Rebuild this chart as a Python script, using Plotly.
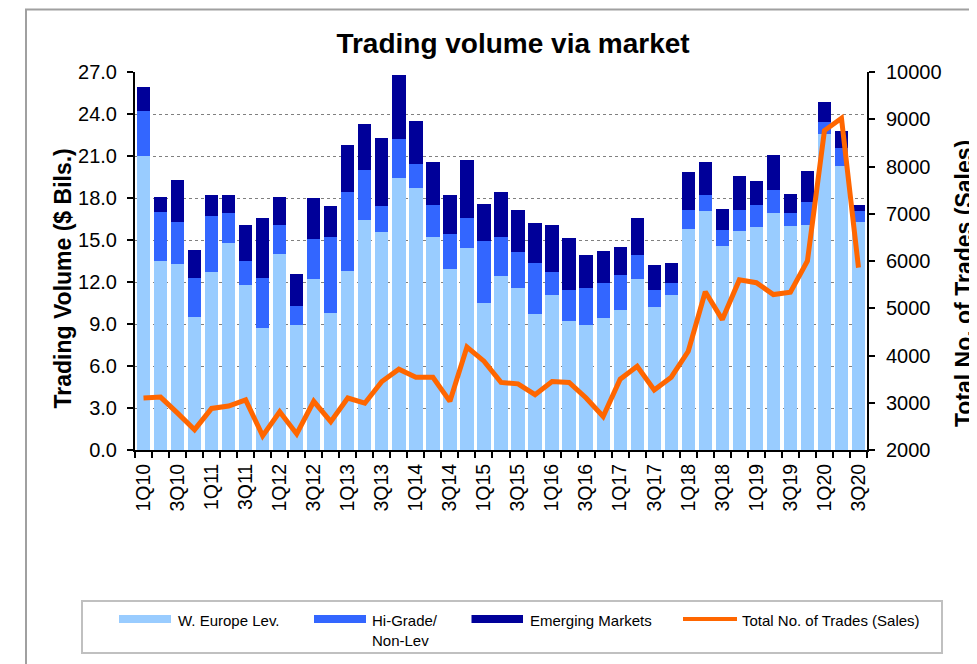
import plotly.graph_objects as go
from plotly.subplots import make_subplots

quarters = [f"{q}Q{y}" for y in range(10, 21) for q in range(1, 5)][:43]

w_europe = [21.0, 13.5, 13.3, 9.5, 12.7, 14.8, 11.8, 8.7, 14.0, 8.9, 12.2, 9.8, 12.8, 16.4, 15.6,
            19.4, 18.7, 15.2, 12.95, 14.4, 10.5, 12.4, 11.6, 9.7, 11.1, 9.25, 8.9, 9.45, 10.0, 12.2,
            10.2, 11.1, 15.8, 17.1, 14.6, 15.65, 15.9, 16.9, 16.0, 16.05, 22.6, 20.3, 16.3]
hi_grade = [3.25, 3.5, 3.0, 2.8, 4.0, 2.1, 1.7, 3.6, 2.05, 1.4, 2.9, 5.4, 5.6, 3.6, 1.86,
            2.84, 1.7, 2.3, 2.45, 2.15, 4.45, 2.85, 2.55, 3.65, 1.6, 2.2, 2.7, 2.45, 2.5, 1.7,
            1.2, 0.85, 1.35, 1.15, 1.15, 1.5, 1.6, 1.7, 0.95, 1.7, 0.8, 1.3, 0.8]
emerging = [1.7, 1.1, 3.0, 2.0, 1.5, 1.3, 2.6, 4.25, 2.05, 2.3, 2.9, 2.2, 3.4, 3.3, 4.86,
            4.55, 3.1, 3.1, 2.85, 4.2, 2.6, 3.2, 3.0, 2.85, 3.4, 3.7, 2.3, 2.3, 2.0, 2.65,
            1.85, 1.4, 2.7, 2.35, 1.45, 2.4, 1.7, 2.5, 1.35, 2.2, 1.45, 1.2, 0.4]
trades = [3100, 3120, 2780, 2430, 2880, 2930, 3060, 2300, 2810, 2340,
          3030, 2600, 3100, 2990, 3450, 3710, 3540, 3540, 3030, 4180,
          3880, 3430, 3400, 3170, 3450, 3430, 3100, 2710, 3500, 3770,
          3270, 3540, 4090, 5350, 4760, 5600, 5540, 5290, 5340, 6000,
          8760, 9020, 5860]

series_names = ["W. Europe Lev.", "Hi-Grade/<br>Non-Lev", "Emerging Markets", "Total No. of Trades (Sales)"]
colors = ["#99CCFF", "#3366FF", "#000099", "#FF6600"]

tick_text = [q if i % 2 == 0 else "" for i, q in enumerate(quarters)]

# page body adds an 8px offset; design in reference pixels and subtract it
OFF = 8
W, H = 969, 656
L, T = 135 - OFF, 72 - OFF
R = W - (867 - OFF)
B = H - (450 - OFF)
PW, PH = W - L - R, H - T - B

def xp(px):
    return (px - OFF - L) / PW

def yp(py):
    return (H - B - (py - OFF)) / PH

fig = make_subplots(specs=[[{"secondary_y": True}]])

for vals, name, col in zip([w_europe, hi_grade, emerging], series_names[:3], colors[:3]):
    fig.add_trace(go.Bar(x=quarters, y=vals, name=name, marker_color=col,
                         marker_line_width=0, showlegend=False), secondary_y=False)

fig.add_trace(go.Scatter(x=quarters, y=trades, name=series_names[3], mode="lines",
                         line=dict(color=colors[3], width=5), showlegend=False),
              secondary_y=True)

font_fam = "Arial, Liberation Sans, sans-serif"

fig.update_layout(
    width=W, height=H,
    margin=dict(l=L, r=R, t=T, b=B, autoexpand=False),
    barmode="stack", bargap=0.22,
    plot_bgcolor="white", paper_bgcolor="white",
    font=dict(family=font_fam, color="black"),
    title=dict(text="<b>Trading volume via market</b>", x=(513 - OFF) / W, xanchor="center",
               y=1 - (43 - OFF) / H, yanchor="middle",
               font=dict(size=28, family=font_fam, color="black")),
    showlegend=False,
)

fig.update_xaxes(domain=[0, 1], type="category", tickmode="array", tickvals=quarters,
                 ticktext=tick_text, tickangle=-90, tickson="boundaries", ticks="outside",
                 ticklen=6, tickwidth=2, tickcolor="black", showline=True, linecolor="black",
                 linewidth=2, showgrid=False, tickfont=dict(size=19.5), ticklabelstandoff=4)

fig.update_yaxes(range=[0, 27], dtick=3, tickformat=".1f", ticks="outside", ticklen=6,
                 tickwidth=2, tickcolor="black", showline=True, linecolor="black", linewidth=2,
                 showgrid=True, gridcolor="#808080", gridwidth=1, griddash="3px,3px",
                 zeroline=False, tickfont=dict(size=20), ticklabelstandoff=6,
                 secondary_y=False)

fig.update_yaxes(range=[2000, 10000], dtick=1000, tickformat="d", ticks="outside", ticklen=6,
                 tickwidth=2, tickcolor="black", showline=True, linecolor="black", linewidth=2,
                 showgrid=False, zeroline=False, tickfont=dict(size=20), ticklabelstandoff=7,
                 secondary_y=True)

shapes = []
annotations = []

# outer chart border
shapes.append(dict(type="rect", xref="paper", yref="paper", x0=xp(26), x1=xp(1000),
                   y0=yp(700), y1=yp(9.5), line=dict(color="#A0A0A0", width=2), layer="below"))

# axis titles
annotations.append(dict(text="<b>Trading Volume ($ Bils.)</b>", xref="paper", yref="paper",
                        x=xp(62.5), y=yp(279), textangle=-90, showarrow=False,
                        xanchor="center", yanchor="middle",
                        font=dict(size=23, family=font_fam, color="black")))
annotations.append(dict(text="<b>Total No. of Trades (Sales)</b>", xref="paper", yref="paper",
                        x=xp(964), y=yp(284), textangle=-90, showarrow=False,
                        xanchor="center", yanchor="middle",
                        font=dict(size=23, family=font_fam, color="black")))

# legend box
shapes.append(dict(type="rect", xref="paper", yref="paper", x0=xp(82), x1=xp(942),
                   y0=yp(653), y1=yp(601), line=dict(color="#C0C0C0", width=2),
                   fillcolor="white"))
legend_items = [(119, 171, 176), (314, 366, 370), (471.5, 523, 528), (683, 737, 740)]
for i, ((sx0, sx1, tx), name, col) in enumerate(zip(legend_items, series_names, colors)):
    if i < 3:
        shapes.append(dict(type="rect", xref="paper", yref="paper", x0=xp(sx0), x1=xp(sx1),
                           y0=yp(623), y1=yp(615), line=dict(width=0), fillcolor=col))
    else:
        shapes.append(dict(type="line", xref="paper", yref="paper", x0=xp(sx0), x1=xp(sx1),
                           y0=yp(619), y1=yp(619), line=dict(color=col, width=4)))
    annotations.append(dict(text=name, xref="paper", yref="paper", x=xp(tx), y=yp(610),
                            xanchor="left", yanchor="top", align="left", showarrow=False,
                            font=dict(size=15, family=font_fam, color="black")))

fig.update_layout(shapes=shapes, annotations=annotations)

fig.write_html("out.html")
